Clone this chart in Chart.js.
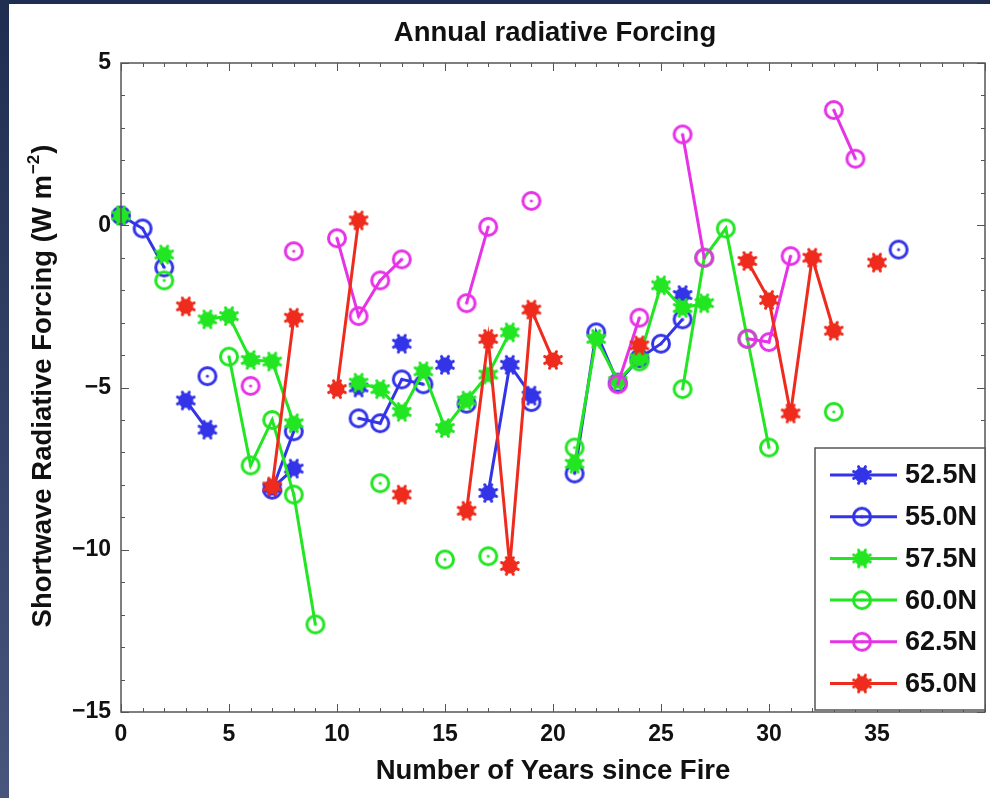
<!DOCTYPE html>
<html>
<head>
<meta charset="utf-8">
<title>Annual radiative Forcing</title>
<script src="https://cdn.jsdelivr.net/npm/chart.js@4.4.0/dist/chart.umd.min.js"></script>
<style>
  html, body { margin: 0; padding: 0; width: 990px; height: 798px; overflow: hidden; }
  body { background: linear-gradient(#1f2d50, #48557c); position: relative; }
  #frame { position: absolute; left: 9px; top: 4px; width: 981px; height: 794px; background: #fff; overflow: hidden; }
  canvas { display: block; }
</style>
</head>
<body>
<div id="frame"><canvas id="chart" width="988" height="794"></canvas></div>
<script>
// years since fire (x values)
const years = [0, 1, 2, 3, 4, 5, 6, 7, 8, 9, 10, 11, 12, 13, 14, 15, 16, 17, 18,
               19, 20, 21, 22, 23, 24, 25, 26, 27, 28, 29, 30, 31, 32, 33, 34, 35, 36];

// forcing per latitude band, W m-2 (null = no value, breaks the line)
const lat525 = [null, null, null, -5.4, -6.3, null, null, -8.1, -7.5, null, null, -5.0, null, -3.65, null, -4.3, null, -8.25, -4.3,
                -5.25, null, null, null, null, null, null, -2.15, null, null, null, null, null, null, null, null, null, null];
const lat550 = [0.3, -0.1, -1.3, null, -4.65, null, null, -8.15, -6.35, null, null, -5.95, -6.1, -4.75, -4.9, null, -5.5, null, null,
                -5.45, null, -7.65, -3.3, -4.85, -4.1, -3.65, -2.9, null, null, null, null, null, null, null, null, null, -0.75];
const lat575 = [0.3, null, -0.9, null, -2.9, -2.8, -4.15, -4.2, -6.1, null, null, -4.85, -5.05, -5.75, -4.5, -6.25, -5.4, -4.6, -3.3,
                null, null, -7.35, -3.5, -4.8, -4.1, -1.85, -2.55, -2.4, null, null, null, null, null, null, null, null, null];
const lat600 = [null, null, -1.7, null, null, -4.05, -7.4, -6.0, -8.3, -12.3, null, null, -7.95, null, null, -10.3, null, -10.2, null,
                null, null, -6.85, null, null, -4.2, null, -5.05, -1.0, -0.1, -3.5, -6.85, null, null, -5.75, null, null, null];
const lat625 = [null, null, null, null, null, null, -4.95, null, -0.8, null, -0.4, -2.8, -1.7, -1.05, null, null, -2.4, -0.05, null,
                0.75, null, null, null, -4.9, -2.85, null, 2.8, -1.0, null, -3.5, -3.6, -0.95, null, 3.55, 2.05, null, null];
const lat650 = [null, null, null, -2.5, null, null, null, -8.05, -2.85, null, -5.05, 0.15, null, -8.3, null, null, -8.8, -3.5, -10.5,
                -2.6, -4.15, null, null, null, -3.7, null, null, null, null, -1.1, -2.3, -5.8, -1.0, -3.25, null, -1.15, null];

const seriesNames = ['52.5N', '55.0N', '57.5N', '60.0N', '62.5N', '65.0N'];
const seriesValues = [lat525, lat550, lat575, lat600, lat625, lat650];
const xTicks = [0, 5, 10, 15, 20, 25, 30, 35];
const yTicks = [-15, -10, -5, 0, 5];

const blue = '#3333e8';
const green = '#22e622';
const magenta = '#e633e6';
const red = '#ee2b1c';
const seriesStyle = [
  { color: blue, marker: 'star' },
  { color: blue, marker: 'circle' },
  { color: green, marker: 'star' },
  { color: green, marker: 'circle' },
  { color: magenta, marker: 'circle' },
  { color: red, marker: 'star' }
];

// matlab-ish markers: filled asterisk blob and open circle with centre dot
function makeStar(color) {
  const c = document.createElement('canvas');
  c.width = c.height = 22;
  const g = c.getContext('2d');
  g.translate(11, 11);
  g.strokeStyle = color;
  g.fillStyle = color;
  g.lineWidth = 3;
  g.lineCap = 'round';
  for (let i = 0; i < 8; i++) {
    const a = i * Math.PI / 4 + Math.PI / 8;
    g.beginPath();
    g.moveTo(0, 0);
    g.lineTo(Math.cos(a) * 9, Math.sin(a) * 9);
    g.stroke();
  }
  g.beginPath();
  g.arc(0, 0, 7.5, 0, 2 * Math.PI);
  g.fill();
  return c;
}

function makeCircle(color) {
  const c = document.createElement('canvas');
  c.width = c.height = 24;
  const g = c.getContext('2d');
  g.translate(12, 12);
  g.strokeStyle = color;
  g.fillStyle = color;
  g.lineWidth = 3;
  g.beginPath();
  g.arc(0, 0, 8.5, 0, 2 * Math.PI);
  g.stroke();
  g.beginPath();
  g.arc(0, 0, 1.6, 0, 2 * Math.PI);
  g.fill();
  return c;
}

const datasets = seriesNames.map(function (name, i) {
  const st = seriesStyle[i];
  const img = st.marker === 'star' ? makeStar(st.color) : makeCircle(st.color);
  return {
    label: name,
    data: years.map(function (yr, k) { return { x: yr, y: seriesValues[i][k] }; }),
    borderColor: st.color,
    backgroundColor: st.color,
    borderWidth: 3,
    pointStyle: img,
    pointRadius: 9,
    spanGaps: false,
    clip: false,
    order: seriesNames.length - i   // later series drawn on top
  };
});

const font = 'Liberation Sans, Arial, Helvetica, sans-serif';

const decorations = {
  id: 'decorations',
  afterDatasetsDraw(chart) {
    const { ctx, chartArea: a, scales: { x, y } } = chart;
    ctx.save();
    ctx.strokeStyle = '#555';
    ctx.lineWidth = 1.5;
    ctx.strokeRect(a.left, a.top, a.right - a.left, a.bottom - a.top);
    ctx.lineWidth = 1;
    ctx.beginPath();
    for (let v = x.min; v <= x.max; v++) {
      const px = Math.round(x.getPixelForValue(v)) + 0.5;
      const len = v % 5 === 0 ? 8 : 4;
      ctx.moveTo(px, a.bottom); ctx.lineTo(px, a.bottom - len);
      ctx.moveTo(px, a.top); ctx.lineTo(px, a.top + len);
    }
    for (let v = y.min; v <= y.max; v++) {
      const py = Math.round(y.getPixelForValue(v)) + 0.5;
      const len = v % 5 === 0 ? 8 : 4;
      ctx.moveTo(a.left, py); ctx.lineTo(a.left + len, py);
      ctx.moveTo(a.right, py); ctx.lineTo(a.right - len, py);
    }
    ctx.stroke();
    ctx.restore();
  },
  afterDraw(chart) {
    const { ctx, chartArea: a } = chart;
    ctx.save();
    ctx.fillStyle = '#111';

    // title
    ctx.font = 'bold 27.5px ' + font;
    ctx.textAlign = 'center';
    ctx.textBaseline = 'alphabetic';
    ctx.fillText('Annual radiative Forcing', (a.left + a.right) / 2 + 2, 37);

    // y axis title with superscript
    const main = 'Shortwave Radiative Forcing (W m';
    const sup = '\u22122';
    ctx.font = 'bold 27.5px ' + font;
    const w1 = ctx.measureText(main).width;
    const w3 = ctx.measureText(')').width;
    ctx.font = 'bold 17px ' + font;
    const w2 = ctx.measureText(sup).width;
    const total = w1 + w2 + w3 + 2;
    ctx.translate(32, 382);
    ctx.rotate(-Math.PI / 2);
    ctx.textAlign = 'left';
    let sx = -total / 2;
    ctx.font = 'bold 27.5px ' + font;
    ctx.fillText(main, sx, 10);
    sx += w1 + 1;
    ctx.font = 'bold 17px ' + font;
    ctx.fillText(sup, sx, -2);
    sx += w2 + 1;
    ctx.font = 'bold 27.5px ' + font;
    ctx.fillText(')', sx, 10);
    ctx.restore();

    // legend box, bottom right inside the axes
    ctx.save();
    const lx = 806, ly = 444, lw = a.right - 806, lh = a.bottom - 2 - 444;
    ctx.fillStyle = '#fff';
    ctx.fillRect(lx, ly, lw, lh);
    ctx.strokeStyle = '#555';
    ctx.lineWidth = 1.5;
    ctx.strokeRect(lx, ly, lw, lh);
    ctx.font = 'bold 27px ' + font;
    ctx.textAlign = 'left';
    ctx.textBaseline = 'middle';
    chart.data.datasets.forEach(function (ds, i) {
      const cy = 471 + i * 41.7;
      ctx.strokeStyle = ds.borderColor;
      ctx.lineWidth = 3;
      ctx.beginPath();
      ctx.moveTo(821, cy);
      ctx.lineTo(888, cy);
      ctx.stroke();
      const img = ds.pointStyle;
      ctx.drawImage(img, 853 - img.width / 2, cy - img.height / 2);
      ctx.fillStyle = '#111';
      ctx.fillText(ds.label, 896, cy + 1);
    });
    ctx.restore();
  }
};

new Chart(document.getElementById('chart'), {
  type: 'line',
  data: { datasets: datasets },
  options: {
    responsive: false,
    animation: false,
    layout: { padding: { left: 0, top: 59, right: 5, bottom: 0 } },
    plugins: {
      legend: { display: false },
      title: { display: false },
      tooltip: { enabled: false }
    },
    scales: {
      x: {
        type: 'linear',
        min: 0,
        max: 40,
        afterFit: function (s) { s.height = 86; },
        afterBuildTicks: function (s) { s.ticks = xTicks.map(function (v) { return { value: v }; }); },
        grid: { display: false, drawTicks: false },
        border: { display: false },
        ticks: { color: '#111', padding: 9, font: { family: font, size: 23, weight: 'bold' } },
        title: {
          display: true,
          text: 'Number of Years since Fire',
          color: '#111',
          font: { family: font, size: 27.5, weight: 'bold', lineHeight: 1 },
          padding: { top: 0, bottom: 13 }
        }
      },
      y: {
        type: 'linear',
        min: -15,
        max: 5,
        afterFit: function (s) { s.width = 112; },
        afterBuildTicks: function (s) { s.ticks = yTicks.map(function (v) { return { value: v }; }); },
        grid: { display: false, drawTicks: false },
        border: { display: false },
        ticks: {
          color: '#111',
          padding: 10,
          font: { family: font, size: 23, weight: 'bold' },
          callback: function (v) { return String(v).replace('-', '\u2212'); }
        }
      }
    }
  },
  plugins: [decorations]
});
</script>
</body>
</html>
